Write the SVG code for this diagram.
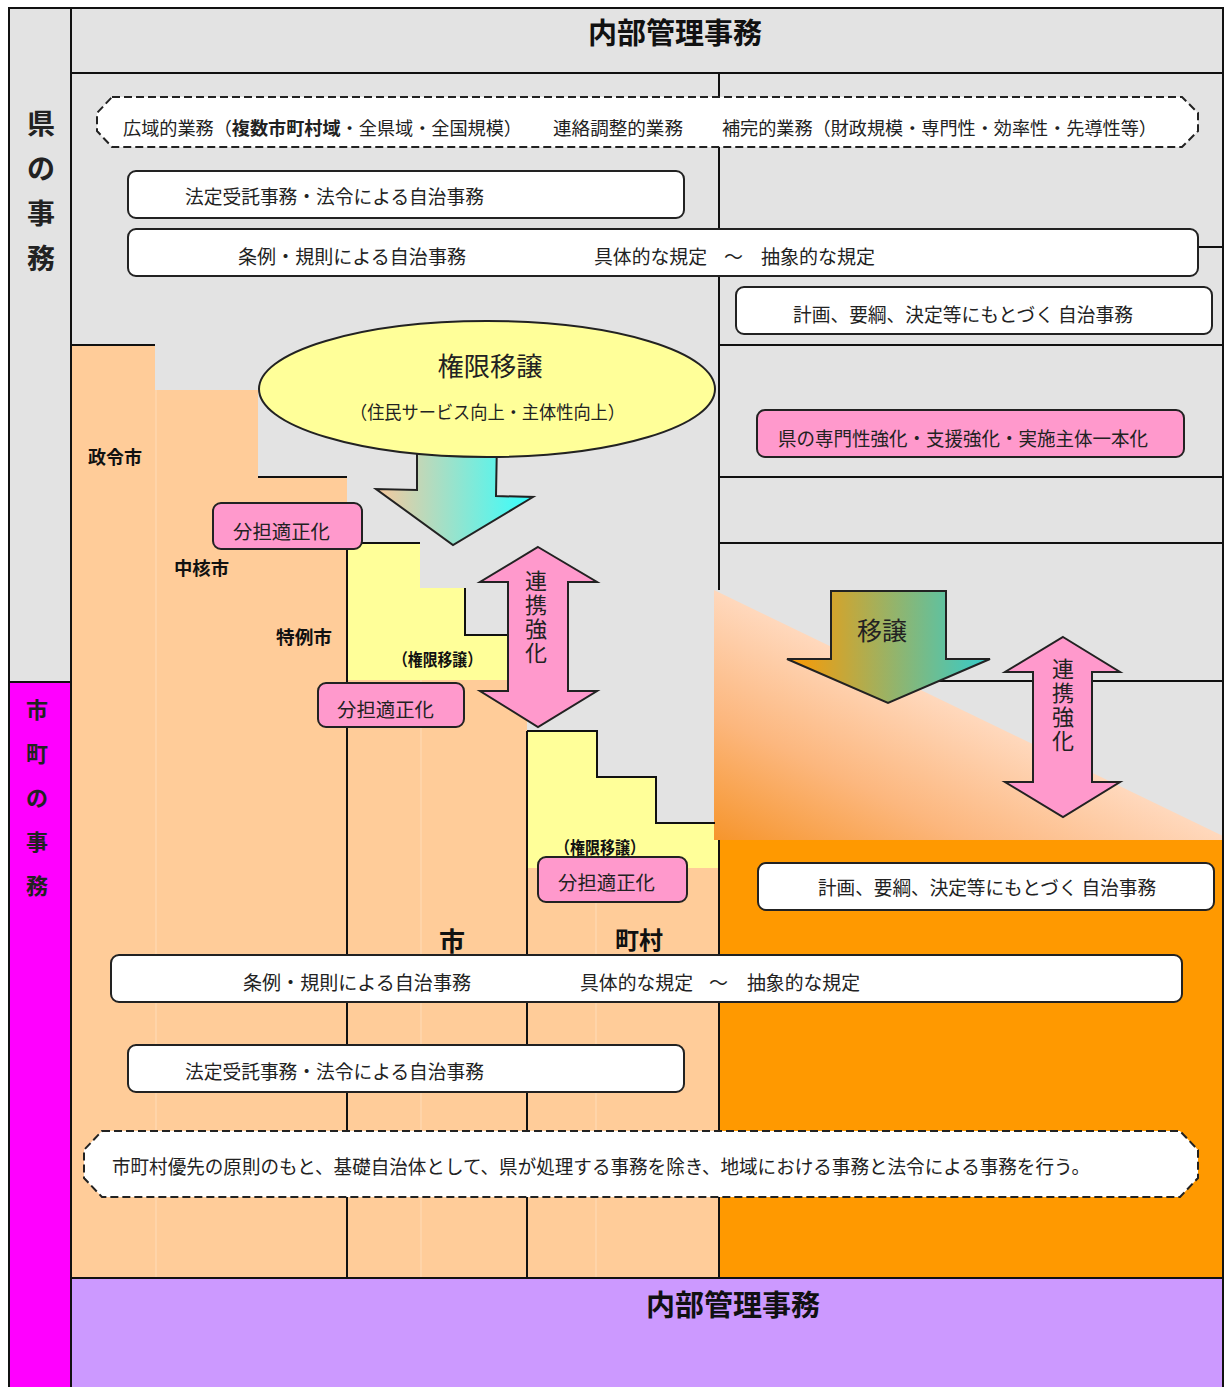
<svg xmlns="http://www.w3.org/2000/svg" width="1228" height="1387" viewBox="0 0 1228 1387">
<style>
text{font-family:"Noto Sans CJK JP","Noto Sans CJK SC",sans-serif;fill:#222}
.ln{fill:none;stroke:#111;stroke-width:2}
.faint{fill:none;stroke:#ffdcb8;stroke-width:1}
.box{fill:#fff;stroke:#222;stroke-width:2}
.dash{fill:#fff;stroke:#222;stroke-width:2;stroke-dasharray:8 4}
.pink{fill:#ff99cc;stroke:#222;stroke-width:2}
.t19{font-size:19px}
.t18{font-size:18px}
.lbl{font-size:18px;font-weight:bold;fill:#111}
.hd{font-size:29px;font-weight:bold;fill:#111}
.mid{text-anchor:middle}
.vt{font-size:22px;writing-mode:vertical-rl;letter-spacing:2px}
</style>
<defs>
<linearGradient id="gTri" gradientUnits="userSpaceOnUse" x1="714" y1="840" x2="812" y2="638">
<stop offset="0" stop-color="#f6952c"/><stop offset="0.5" stop-color="#fcb77e"/><stop offset="1" stop-color="#ffd8bc"/>
</linearGradient>
<linearGradient id="gA1" gradientUnits="userSpaceOnUse" x1="376" y1="0" x2="533" y2="0">
<stop offset="0" stop-color="#f8c89c"/><stop offset="1" stop-color="#33ffff"/>
</linearGradient>
<linearGradient id="gA2" gradientUnits="userSpaceOnUse" x1="788" y1="0" x2="990" y2="0">
<stop offset="0" stop-color="#ff9900"/><stop offset="1" stop-color="#33cccc"/>
</linearGradient>
</defs>

<g id="background">
<rect x="9" y="8" width="1214" height="1379" fill="#e3e3e3"/>
<rect x="9" y="682" width="62" height="705" fill="#ff00ff"/>
<rect x="71" y="1278" width="1152" height="109" fill="#cc99ff"/>
<path d="M71,345 H155 V390 H258 V477 H347 V680 H527 V868 H719 V1278 H71 Z" fill="#ffcc99"/>
<path d="M347,543 H420 V588 H465 V635 H527 V680 H347 Z" fill="#ffff99"/>
<path d="M527,731 H597 V777 H656 V823 H719 V868 H527 Z" fill="#ffff99"/>
<rect x="719" y="838" width="504" height="440" fill="#ff9900"/>
<path class="faint" d="M156,390 V1278 M421,680 V1278 M596,868 V1278"/>
<path class="ln" d="M719,681 H1223"/>
<path d="M714,590 L1223,836 V840 H714 Z" fill="url(#gTri)"/>
<path class="ln" d="M71,73 H1223 M71,1278 H1223 M9,682 H71 M71,8 V1387 M719,73 V590 M719,247 H1223 M719,345 H1223 M719,477 H1223 M719,543 H1223 M71,345 H155 M258,477 H347 M347,543 H420 M347,543 V1278 M465,588 V635 H507 M527,731 H597 V777 H656 V823 H715 M527,731 V1278 M719,840 V1278"/>
<rect x="9" y="8" width="1214" height="1385" fill="none" stroke="#111" stroke-width="2"/>
</g>

<g id="left-labels">
<text x="41" y="134" class="mid" style="font-size:28px;font-weight:bold">県</text>
<text x="41" y="179" class="mid" style="font-size:28px;font-weight:bold">の</text>
<text x="41" y="224" class="mid" style="font-size:28px;font-weight:bold">事</text>
<text x="41" y="269" class="mid" style="font-size:28px;font-weight:bold">務</text>
<text x="37" y="718" class="mid" style="font-size:22px;font-weight:bold">市</text>
<text x="37" y="762" class="mid" style="font-size:22px;font-weight:bold">町</text>
<text x="37" y="806" class="mid" style="font-size:22px;font-weight:bold">の</text>
<text x="37" y="850" class="mid" style="font-size:22px;font-weight:bold">事</text>
<text x="37" y="894" class="mid" style="font-size:22px;font-weight:bold">務</text>
</g>

<g id="header-top"><text x="588" y="44" class="hd" textLength="174" lengthAdjust="spacingAndGlyphs">内部管理事務</text></g>
<g id="header-bottom"><text x="646" y="1316" class="hd" textLength="174" lengthAdjust="spacingAndGlyphs">内部管理事務</text></g>

<g id="pref-scope">
<path class="dash" d="M112,97 H1182 L1198,113 V131 L1182,147 H112 L97,131 V113 Z"/>
<text x="123" y="135" class="t18" textLength="399" lengthAdjust="spacingAndGlyphs">広域的業務（<tspan font-weight="bold">複数市町村域</tspan>・全県域・全国規模）</text>
<text x="553" y="135" class="t18" textLength="130" lengthAdjust="spacingAndGlyphs">連絡調整的業務</text>
<text x="722" y="135" class="t18" textLength="435" lengthAdjust="spacingAndGlyphs">補完的業務（財政規模・専門性・効率性・先導性等）</text>
</g>

<g id="pref-hotei">
<rect class="box" x="128" y="171" width="556" height="47" rx="8"/>
<text x="185" y="204" class="t19" textLength="299" lengthAdjust="spacingAndGlyphs">法定受託事務・法令による自治事務</text>
</g>

<g id="pref-jorei">
<rect class="box" x="128" y="229" width="1070" height="47" rx="8"/>
<text x="238" y="264" class="t19" textLength="228" lengthAdjust="spacingAndGlyphs">条例・規則による自治事務</text>
<text x="594" y="264" class="t19" textLength="113" lengthAdjust="spacingAndGlyphs">具体的な規定</text>
<text x="724" y="264" class="t19">～</text>
<text x="761" y="264" class="t19" textLength="114" lengthAdjust="spacingAndGlyphs">抽象的な規定</text>
</g>

<g id="pref-keikaku">
<rect class="box" x="736" y="287" width="476" height="47" rx="8"/>
<text x="793" y="322" class="t19" textLength="340" lengthAdjust="spacingAndGlyphs">計画、要綱、決定等にもとづく 自治事務</text>
</g>

<g id="pref-strengthen">
<rect class="pink" x="757" y="410" width="427" height="47" rx="8"/>
<text x="778" y="446" class="t19" textLength="370" lengthAdjust="spacingAndGlyphs">県の専門性強化・支援強化・実施主体一本化</text>
</g>

<g id="connectors">
<path d="M417,440 L497,440 L496,496 L533,497 L453,545 L376,489 L417,490 Z" fill="url(#gA1)" stroke="#222" stroke-width="2"/>
<path d="M538,547 L597,582 L568,582 L568,691 L597,691 L538,727 L480,691 L508,691 L508,582 L480,582 Z" fill="#ff99cc" stroke="#222" stroke-width="2"/>
<path d="M831,591 L946,591 L946,659 L990,659 L888,703 L787,659 L831,659 Z" fill="url(#gA2)" stroke="#222" stroke-width="2"/>
<path d="M1063,637 L1120,672 L1092,672 L1092,782 L1120,782 L1063,817 L1005,782 L1033,782 L1033,672 L1005,672 Z" fill="#ff99cc" stroke="#222" stroke-width="2"/>
</g>

<g id="transfer-ellipse">
<ellipse cx="487" cy="389" rx="228" ry="68" fill="#ffff99" stroke="#222" stroke-width="2"/>
<text x="490" y="376" class="mid" style="font-size:26px" textLength="105" lengthAdjust="spacingAndGlyphs">権限移譲</text>
<text x="350" y="419" class="t18" textLength="275" lengthAdjust="spacingAndGlyphs">（住民サービス向上・主体性向上）</text>
</g>

<g id="arrow-labels">
<text x="536" y="570" class="vt">連携強化</text>
<text x="1063" y="658" class="vt">連携強化</text>
<text x="882" y="640" class="mid" style="font-size:25px">移譲</text>
</g>

<g id="bunntan-1">
<rect class="pink" x="213" y="503" width="149" height="46" rx="8"/>
<text x="233" y="539" class="t19" textLength="97" lengthAdjust="spacingAndGlyphs">分担適正化</text>
</g>
<g id="bunntan-2">
<rect class="pink" x="318" y="683" width="146" height="44" rx="8"/>
<text x="337" y="717" class="t19" textLength="97" lengthAdjust="spacingAndGlyphs">分担適正化</text>
</g>
<g id="bunntan-3">
<rect class="pink" x="538" y="857" width="149" height="45" rx="8"/>
<text x="558" y="890" class="t19" textLength="97" lengthAdjust="spacingAndGlyphs">分担適正化</text>
</g>

<g id="city-labels">
<text x="88" y="464" class="lbl" textLength="54" lengthAdjust="spacingAndGlyphs">政令市</text>
<text x="174" y="575" class="lbl" textLength="55" lengthAdjust="spacingAndGlyphs">中核市</text>
<text x="276" y="644" class="lbl" textLength="56" lengthAdjust="spacingAndGlyphs">特例市</text>
<text x="393" y="666" style="font-size:17px;font-weight:bold;fill:#111" textLength="89" lengthAdjust="spacingAndGlyphs">（権限移譲）</text>
<text x="555" y="854" style="font-size:17px;font-weight:bold;fill:#111" textLength="90" lengthAdjust="spacingAndGlyphs">（権限移譲）</text>
<text x="452" y="951" class="mid" style="font-size:26px;font-weight:bold;fill:#111">市</text>
<text x="639" y="949" class="mid" style="font-size:24px;font-weight:bold;fill:#111">町村</text>
</g>

<g id="muni-keikaku">
<rect class="box" x="758" y="863" width="456" height="47" rx="8"/>
<text x="818" y="895" class="t19" textLength="338" lengthAdjust="spacingAndGlyphs">計画、要綱、決定等にもとづく 自治事務</text>
</g>

<g id="muni-jorei">
<rect class="box" x="111" y="955" width="1071" height="47" rx="8"/>
<text x="243" y="990" class="t19" textLength="228" lengthAdjust="spacingAndGlyphs">条例・規則による自治事務</text>
<text x="580" y="990" class="t19" textLength="113" lengthAdjust="spacingAndGlyphs">具体的な規定</text>
<text x="709" y="990" class="t19">～</text>
<text x="747" y="990" class="t19" textLength="113" lengthAdjust="spacingAndGlyphs">抽象的な規定</text>
</g>

<g id="muni-hotei">
<rect class="box" x="128" y="1045" width="556" height="47" rx="8"/>
<text x="185" y="1079" class="t19" textLength="299" lengthAdjust="spacingAndGlyphs">法定受託事務・法令による自治事務</text>
</g>

<g id="muni-scope">
<path class="dash" d="M102,1131 H1180 L1198,1150 V1178 L1180,1197 H102 L84,1178 V1150 Z"/>
<text x="112" y="1174" class="t19" textLength="978" lengthAdjust="spacingAndGlyphs">市町村優先の原則のもと、基礎自治体として、県が処理する事務を除き、地域における事務と法令による事務を行う。</text>
</g>
</svg>
